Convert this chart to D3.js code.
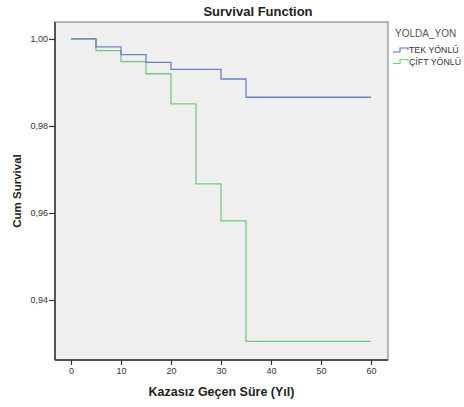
<!DOCTYPE html>
<html>
<head>
<meta charset="utf-8">
<script src="https://cdn.jsdelivr.net/npm/d3@7"></script>
<style>
  html, body { margin: 0; padding: 0; background: #fff; }
  svg { display: block; font-family: Arial, "Liberation Sans", sans-serif; }
</style>
</head>
<body>
<svg id="chart" width="464" height="407"></svg>
<script>
// Kaplan-Meier step data: times at which survival changes and the survival level after each step
const tekTimes = [0, 5, 10, 15, 20, 30, 35, 60];
const tekSurv  = [1.0, 0.9982, 0.9964, 0.9946, 0.9930, 0.9908, 0.9866, 0.9866];
const ciftTimes = [0, 5, 10, 15, 20, 25, 30, 35, 60];
const ciftSurv  = [1.0, 0.9973, 0.9948, 0.9920, 0.9851, 0.9667, 0.9582, 0.9305, 0.9305];
const seriesNames = ["TEK YÖNLÜ", "ÇİFT YÖNLÜ"];
const seriesColors = ["#5470c0", "#6ccf7c"];
const xTicks = [0, 10, 20, 30, 40, 50, 60];
const yTicks = [0.94, 0.96, 0.98, 1.00];

const svg = d3.select("#chart");
const plot = { left: 55, right: 388, top: 22, bottom: 360 };

const x = d3.scaleLinear().domain([-3.2, 63.4]).range([plot.left, plot.right]);
const y = d3.scaleLinear().domain([0.9262, 1.0039]).range([plot.bottom, plot.top]);

// plot background and frame
svg.append("rect")
  .attr("x", plot.left).attr("y", plot.top)
  .attr("width", plot.right - plot.left).attr("height", plot.bottom - plot.top)
  .attr("fill", "#efefef").attr("stroke", "#8a8a8a").attr("stroke-width", 1.2);

// axes
const fmt = d => d3.format(".2f")(d).replace(".", ",");
const yAxis = svg.append("g")
  .attr("transform", `translate(${plot.left},0)`)
  .call(d3.axisLeft(y).tickValues(yTicks).tickFormat(fmt).tickSize(6).tickPadding(1));
const xAxis = svg.append("g")
  .attr("transform", `translate(0,${plot.bottom})`)
  .call(d3.axisBottom(x).tickValues(xTicks).tickFormat(d3.format("d")).tickSize(5).tickPadding(3));
[xAxis, yAxis].forEach(g => {
  g.select(".domain").attr("stroke", "#333").attr("stroke-width", 1.5);
  g.selectAll(".tick line").attr("stroke", "#333").attr("stroke-width", 1.2);
  g.selectAll(".tick text").attr("fill", "#333").style("font-size", "9px")
    .style("font-family", "Arial, 'Liberation Sans', sans-serif");
});
yAxis.select(".domain").attr("d", `M0,${plot.top}V${plot.bottom}`);
xAxis.select(".domain").attr("d", `M${plot.left},0H${plot.right}`);

// survival step lines
const line = d3.line().x(d => x(d[0])).y(d => y(d[1])).curve(d3.curveStepAfter);
const series = [
  tekTimes.map((t, i) => [t, tekSurv[i]]),
  ciftTimes.map((t, i) => [t, ciftSurv[i]])
];
// draw the two-way series first so the one-way line sits on top
[1, 0].forEach(i => {
  svg.append("path")
    .datum(series[i])
    .attr("d", line)
    .attr("fill", "none")
    .attr("stroke", seriesColors[i])
    .attr("stroke-width", 1.3)
    .attr("stroke-opacity", i === 0 ? 0.85 : 1);
});

// titles
svg.append("text")
  .attr("x", 258).attr("y", 16)
  .attr("text-anchor", "middle")
  .style("font-size", "13px").style("font-weight", "bold").attr("fill", "#222")
  .text("Survival Function");
svg.append("text")
  .attr("x", (plot.left + plot.right) / 2).attr("y", 396)
  .attr("text-anchor", "middle")
  .style("font-size", "12.5px").style("font-weight", "bold").attr("fill", "#222")
  .text("Kazasız Geçen Süre (Yıl)");
svg.append("text")
  .attr("transform", `translate(21,${(plot.top + plot.bottom) / 2}) rotate(-90)`)
  .attr("text-anchor", "middle")
  .style("font-size", "11.5px").style("font-weight", "bold").attr("fill", "#222")
  .text("Cum Survival");

// legend
const legend = svg.append("g").attr("transform", "translate(395,0)");
legend.append("text")
  .attr("x", 0).attr("y", 37)
  .style("font-size", "10px").attr("fill", "#555")
  .text("YOLDA_YON");
seriesNames.forEach((name, i) => {
  const yy = 52 + i * 11.5;
  legend.append("path")
    .attr("d", `M-2,${yy}H5V${yy - 4}H13V${yy - 2}`)
    .attr("fill", "none").attr("stroke", seriesColors[i]).attr("stroke-width", 1.1);
  legend.append("text")
    .attr("x", 14).attr("y", yy + 1)
    .style("font-size", "8.8px").attr("fill", "#333")
    .text(name);
});
</script>
</body>
</html>
